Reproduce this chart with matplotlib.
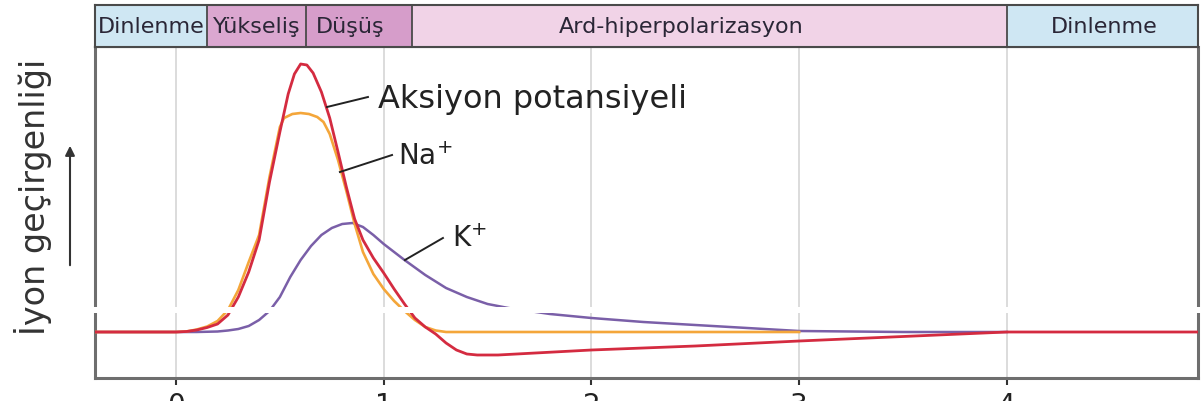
import matplotlib
matplotlib.use("Agg")
import matplotlib.pyplot as plt
from matplotlib.patches import Rectangle, FancyArrowPatch

plt.rcParams['font.family'] = ['DejaVu Sans']
plt.rcParams['mathtext.default'] = 'regular'

# zaman (ms) ve geçirgenlik değerleri (taban çizgisi = 0)
t_ap = [-0.39, 0.00, 0.05, 0.10, 0.15, 0.20, 0.25, 0.30, 0.35, 0.40, 0.45, 0.50,
        0.54, 0.57, 0.60, 0.63, 0.66, 0.70, 0.74, 0.78, 0.82, 0.86, 0.90, 0.95,
        1.00, 1.05, 1.10, 1.15, 1.20, 1.25, 1.30, 1.35, 1.40, 1.45, 1.55, 2.00,
        2.50, 3.00, 3.50, 4.00, 4.92]
y_ap = [0, 0, 0.5, 2, 4.5, 8, 17, 35, 60, 92, 150, 200,
        238, 258, 268, 267, 259, 240, 214, 180, 145, 113, 92, 74,
        59, 43, 28, 14, 5, -2, -11, -18, -22, -23, -23, -18,
        -14, -9, -4.5, 0, 0]

t_na = [-0.39, 0.00, 0.05, 0.10, 0.15, 0.20, 0.25, 0.30, 0.35, 0.40, 0.45, 0.50,
        0.52, 0.56, 0.60, 0.64, 0.68, 0.71, 0.74, 0.78, 0.82, 0.86, 0.90, 0.95,
        1.00, 1.05, 1.10, 1.15, 1.20, 1.25, 1.30, 3.00]
y_na = [0, 0, 0.5, 2.5, 5.5, 11, 22, 42, 70, 97, 155, 205,
        214, 218, 219, 218, 215, 210, 198, 172, 141, 108, 80, 58,
        43, 31, 21, 12, 5, 1.5, 0, 0]

t_k = [-0.39, 0.10, 0.20, 0.25, 0.30, 0.35, 0.40, 0.45, 0.50, 0.55, 0.60, 0.65,
       0.70, 0.75, 0.80, 0.85, 0.90, 0.95, 1.00, 1.05, 1.10, 1.20, 1.30, 1.40,
       1.50, 1.60, 1.80, 2.00, 2.25, 2.50, 2.75, 3.00, 3.50, 4.00]
y_k = [0, 0, 0.5, 1.5, 3, 6, 12, 21, 35, 55, 72, 86,
       97, 104, 108, 109, 105, 97, 88, 80, 72, 57, 44, 35,
       28, 24, 18, 14, 10, 7, 4, 1, 0, 0]

phase_names = ["Dinlenme", "Yükseliş", "Düşüş", "Ard-hiperpolarizasyon", "Dinlenme"]
phase_edges = [-0.39, 0.15, 0.625, 1.135, 4.0, 4.92]
phase_colors = ["#cfe7f3", "#dba7d0", "#d69dca", "#f1d3e7", "#cfe7f3"]
phase_label_x = [-0.12, 0.39, 0.84, 2.43, 4.47]

xticks = [0, 1, 2, 3, 4]

W, H = 1201, 401
fig = plt.figure(figsize=(W / 100, H / 100), dpi=100)

def box(x0, y0, x1, y1):
    # piksel (üstten) -> figür oranı
    return [x0 / W, 1 - y1 / H, (x1 - x0) / W, (y1 - y0) / H]

ax = fig.add_axes(box(95, 47, 1198, 378))
hd = fig.add_axes(box(95, 5, 1198, 47))

xmin, xmax = -0.39, 4.92
ax.set_xlim(xmin, xmax)
ax.set_ylim(-46, 285)
hd.set_xlim(xmin, xmax)
hd.set_ylim(0, 1)

# üst şerit: evreler
for i, name in enumerate(phase_names):
    hd.add_patch(Rectangle((phase_edges[i], 0), phase_edges[i + 1] - phase_edges[i], 1,
                           facecolor=phase_colors[i], edgecolor="none"))
    if 0 < i:
        hd.axvline(phase_edges[i], color="#4a4a4a", lw=1.3)
    hd.text(phase_label_x[i], 0.47, name, ha="center", va="center",
            fontsize=16, color="#2a2636")
hd.set_xticks([])
hd.set_yticks([])
for s in hd.spines.values():
    s.set_color("#4a4a4a")
    s.set_linewidth(1.5)

# eğriler
ax.grid(axis="x", color="#d6d6d6", lw=1.2, zorder=0)
ax.plot(t_k, y_k, color="#7a5fa8", lw=1.8, zorder=2, solid_joinstyle="round")
ax.plot(t_na, y_na, color="#f4a63a", lw=1.9, zorder=3, solid_joinstyle="round")
ax.plot(t_ap, y_ap, color="#d42b40", lw=2.0, zorder=4, solid_joinstyle="round")

# etiketler ve çizgileri
ax.plot([0.727, 0.924], [225, 235], color="#222222", lw=1.4, zorder=5)
ax.text(0.97, 224, "Aksiyon potansiyeli", fontsize=23, color="#222222", va="baseline")
ax.plot([0.789, 1.040], [160, 177], color="#222222", lw=1.4, zorder=5)
ax.text(1.069, 167, "Na$^{+}$", fontsize=20, color="#222222", va="baseline")
ax.plot([1.102, 1.285], [72, 94], color="#222222", lw=1.4, zorder=5)
ax.text(1.329, 85, "K$^{+}$", fontsize=20, color="#222222", va="baseline")

ax.set_xticks(xticks)
ax.set_yticks([])
ax.tick_params(axis="x", length=5, width=1.5, color="#333333", labelsize=20,
               labelcolor="#222222", pad=5)
for side in ["left", "bottom", "right"]:
    ax.spines[side].set_color("#6e6e6e")
    ax.spines[side].set_linewidth(2.2)
ax.spines["top"].set_color("#4a4a4a")
ax.spines["top"].set_linewidth(1.5)

# y ekseni yazısı ve ok
fig.text(33 / W, 1 - 197 / H, "İyon geçirgenliği", rotation=90, ha="center", va="center",
         fontsize=24, color="#333333")
fig.add_artist(FancyArrowPatch(
    (70 / W, 1 - 268 / H), (70 / W, 1 - 143 / H), transform=fig.transFigure,
    arrowstyle="-|>", mutation_scale=14, color="#333333", lw=1.5))

# taramadaki beyaz şerit
for x0, x1 in [(92, 287), (382, 1201)]:
    fig.add_artist(Rectangle((x0 / W, 1 - 313 / H), (x1 - x0) / W, 6 / H,
                             transform=fig.transFigure, facecolor="white",
                             edgecolor="none", zorder=10))

fig.savefig("out.png", dpi=100)
